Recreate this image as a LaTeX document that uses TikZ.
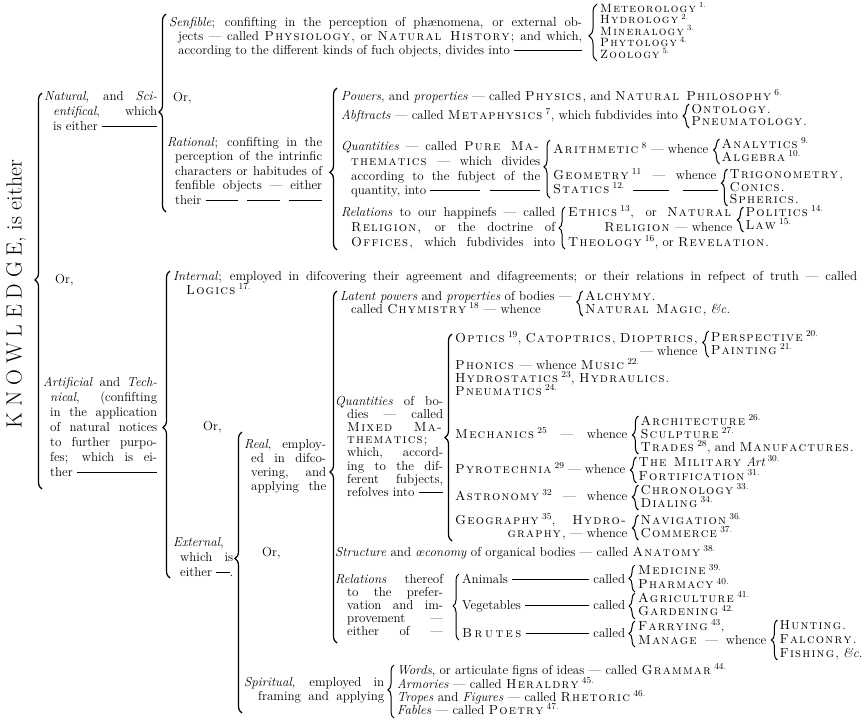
\documentclass[tikz,border=0pt]{standalone}
\usepackage{graphicx}
\usetikzlibrary{decorations.pathreplacing,calc}
\newcommand\fs{\fontsize{13}{14}\selectfont}
\def\lspc#1{\ifx#1\relax\else#1\kern1.2pt\expandafter\lspc\fi}
\newcommand\SC[1]{\textsc{\lspc#1\relax}}
\newcommand\supn[1]{\textsuperscript{#1}}
\newcommand\dfill{\leaders\hrule height 3.8pt depth -3.1pt\hfill}
\tikzset{
  txt/.style={anchor=west, inner sep=0pt, text height=8.5pt, text depth=2.5pt, font=\fs},
  txs/.style={anchor=west, inner sep=0pt, text height=7.5pt, text depth=1.5pt, font=\fontsize{12}{13}\selectfont},
  txr/.style={txt, anchor=east},
  bbr/.style={decorate, decoration={brace, amplitude=7pt, aspect=#1}, line width=1.2pt},
  sbr/.style={decorate, decoration={brace, amplitude=6pt, aspect=#1}, line width=1pt},
  rl/.style={line width=0.7pt},
}
\newcommand\JL[4]{\node[txt] (#1) at (#2) {\makebox[#3pt][s]{#4}};}
\newcommand\TL[3]{\node[txt] (#1) at (#2) {#3};}
\newcommand\RB[4]{\draw[sbr=#4] ($(#1.west|-0,#3)+(-2,0)$) -- ($(#1.west|-0,#2)+(-2,0)$);}
\begin{document}
\begin{tikzpicture}[x=1pt,y=-1pt]
\fill[white] (0,0) rectangle (865,724);
\useasboundingbox (0,0) rectangle (865,724);
% KNOWLEDGE
\node[rotate=90, inner sep=0pt] (know) at (16,294)
  {\resizebox{268pt}{!}{\fontsize{19}{20}\selectfont K\kern5pt N\kern5pt O\kern5pt W\kern5pt L\kern5pt E\kern5pt D\kern5pt G\kern5pt E, is either}};
\draw[bbr=0.528] (42,489) -- (42,93);
% Natural
\JL{nat1}{44,97}{113}{\textit{Natural}, and \textit{Sci-}}
\JL{nat2}{53,112}{104}{\textit{entifical}, which}
\JL{nat3}{53,127}{104}{is either \dfill}
\TL{orA}{55,280}{Or,}
% Artificial
\JL{art1}{43,383}{114}{\textit{Artificial} and \textit{Tech-}}
\JL{art2}{50,398}{107}{\textit{nical}, (confifting}
\JL{art3}{50,413}{107}{in the application}
\JL{art4}{50,428}{107}{of natural notices}
\JL{art5}{50,443}{107}{to further purpo-}
\JL{art6}{50,458}{107}{fes; which is ei-}
\JL{art7}{50,473}{107}{ther \dfill}
% Natural's brace
\draw[bbr=0.505] (166,212) -- (166,14);
\JL{sen1}{169,23}{413}{\textit{Senfible}; confifting in the perception of phænomena, or external ob-}
\JL{sen2}{178,37}{404}{jects — called \SC{Physiology}, or \SC{Natural\ History}; and which,}
\JL{sen3}{178,51}{404}{according to the different kinds of fuch objects, divides into \dfill}
\draw[decorate, decoration={brace, amplitude=8pt, aspect=0.44}, line width=1pt] (597,61) -- (597,4);
\node[txs] (met) at (600,9) {\SC{Meteorology}\,\supn{1.}};
\node[txs] (hydl) at (600,20.5) {\SC{Hydrology}\,\supn{2.}};
\node[txs] (mine) at (600,32) {\SC{Mineralogy}\,\supn{3.}};
\node[txs] (phyt) at (600,43.5) {\SC{Phytology}\,\supn{4.}};
\node[txs] (zool) at (600,55) {\SC{Zoology}\,\supn{5.}};
\TL{orB}{173,98}{Or,}
% Rational
\JL{rat1}{167,143}{155}{\textit{Rational}; confifting in the}
\JL{rat2}{175,157}{147}{perception of the intrinfic}
\JL{rat3}{175,172}{147}{characters or habitudes of}
\JL{rat4}{175,186}{147}{fenfible objects — either}
\JL{rat5}{175,201}{147}{their \dfill\hspace{9pt}\dfill\hspace{9pt}\dfill}
\draw[bbr=0.48] (337,250) -- (337,88);
\TL{pow}{341,97}{\textit{Powers}, and \textit{properties} — called \SC{Physics}, and \SC{Natural\ Philosophy}\,\supn{6.}}
\TL{abs}{341,116}{\textit{Abftracts} — called \SC{Metaphysics}\,\supn{7}, which fubdivides into}
\node[txt,xshift=13pt] (ont) at (abs.east|-0,110) {\SC{Ontology}.};
\node[txt] (pne) at (ont.west|-0,122) {\SC{Pneumatology}.};
\RB{ont}{104}{128}{0.5}
% Pure mathematics
\JL{pq1}{341,147}{199}{\textit{Quantities} — called \SC{Pure\ Ma-}}
\JL{pq2}{351,162}{189}{\SC{thematics} — which divides}
\JL{pq3}{351,177}{189}{according to the fubject of the}
\JL{pq4}{351,191}{189}{quantity, into \dfill\hspace{10pt}\dfill}
\draw[sbr=0.536] (550,198) -- (550,140);
\TL{ari}{553,150}{\SC{Arithmetic}\,\supn{8} — whence}
\JL{geo}{553,176}{163}{\SC{Geometry}\,\supn{11} — whence}
\TL{sta}{553,190}{\SC{Statics}\,\supn{12.}}
\node[txt,xshift=13pt] (anl) at (ari.east|-0,145) {\SC{Analytics}\,\supn{9.}};
\node[txt] (alg) at (anl.west|-0,158) {\SC{Algebra}\,\supn{10.}};
\RB{anl}{139}{164}{0.56}
\node[txt,xshift=13pt] (tri) at (geo.east|-0,175) {\SC{Trigonometry},};
\node[txt] (coni) at (tri.west|-0,188) {\SC{Conics}.};
\node[txt] (sphe) at (tri.west|-0,200) {\SC{Spherics}.};
\RB{tri}{169}{206}{0.62}
\coordinate (stA) at ($(sta.east)+(8,0)$);
\coordinate (stB) at ($(tri.west|-sta.east)+(-11,0)$);
\draw[rl] (stA) -- ($(stA)!0.42!(stB)$);
\draw[rl] ($(stA)!0.58!(stB)$) -- (stB);
% Relations to happiness
\JL{rh1}{341,213}{214}{\textit{Relations} to our happinefs — called}
\JL{rh2}{351,228}{204}{\SC{Religion}, or the doctrine of}
\JL{rh3}{351,243}{204}{\SC{Offices}, which fubdivides into}
\draw[sbr=0.5] (565,249) -- (565,207);
\JL{eth}{568,213}{164}{\SC{Ethics}\,\supn{13}, or \SC{Natural}}
\node[txr] (relw) at (eth.east|-0,228) {\SC{Religion} — whence};
\TL{theo}{568,243}{\SC{Theology}\,\supn{16}, or \SC{Revelation}.}
\node[txt,xshift=13pt] (poli) at (eth.east|-0,213) {\SC{Politics}\,\supn{14.}};
\node[txt] (law) at (poli.west|-0,226) {\SC{Law}\,\supn{15.}};
\RB{poli}{207}{232}{0.48}
% Internal
\JL{intl}{173,277}{684}{\textit{Internal}; employed in difcovering their agreement and difagreements; or their relations in refpect of truth — called}
\TL{logi}{186,291}{\SC{Logics}\,\supn{17.}}
\draw[bbr=0.49] (170,578) -- (170,271);
\TL{orC}{203,427}{Or,}
% External
\TL{ext1}{173,543}{\textit{External},}
\JL{ext2}{180,558}{53}{which is}
\JL{ext3}{180,573}{53}{either \dfill.}
\draw[bbr=0.55] (242,713) -- (242,432);
\TL{orD}{262,553}{Or,}
% Real
\JL{re1}{244,445}{82}{\textit{Real}, employ-}
\JL{re2}{251,459}{75}{ed in difco-}
\JL{re3}{251,473}{75}{vering, and}
\JL{re4}{251,487}{75}{applying the}
\draw[bbr=0.486] (337,643) -- (337,291);
% Latent
\TL{lat1}{340,297}{\textit{Latent powers} and \textit{properties} of bodies —}
\TL{lat2}{351,310}{called \SC{Chymistry}\,\supn{18} — whence}
\node[txt,xshift=13pt] (alc) at (lat1.east|-0,297) {\SC{Alchymy}.};
\node[txt] (nmag) at (alc.west|-0,310) {\SC{Natural\ Magic}, \textit{\&c.}};
\RB{alc}{291}{316}{0.56}
% Mixed mathematics
\draw[bbr=0.5] (452,541) -- (452,334);
\JL{mq1}{335,402}{108}{\textit{Quantities} of bo-}
\JL{mq2}{347,415}{96}{dies — called}
\JL{mq3}{347,428}{96}{\SC{Mixed\ Ma-}}
\JL{mq4}{347,440}{96}{\SC{thematics};}
\JL{mq5}{347,453}{96}{which, accord-}
\JL{mq6}{347,467}{96}{ing to the dif-}
\JL{mq7}{347,480}{96}{ferent fubjects,}
\JL{mq8}{347,493}{96}{refolves into \dfill}
\TL{opt}{455,339}{\SC{Optics}\,\supn{19}, \SC{Catoptrics}, \SC{Dioptrics},}
\node[txt,xshift=13pt] (pers) at (opt.east|-0,338) {\SC{Perspective}\,\supn{20.}};
\node[txt] (pain) at (pers.west|-0,351) {\SC{Painting}\,\supn{21.}};
\node[txr] (optw) at (opt.east|-0,352) {— whence};
\RB{pers}{331}{357}{0.56}
\TL{phon}{455,366}{\SC{Phonics} — whence \SC{Music}\,\supn{22.}}
\TL{hydr}{455,379}{\SC{Hydrostatics}\,\supn{23}, \SC{Hydraulics}.}
\TL{pneu}{455,392}{\SC{Pneumatics}\,\supn{24.}}
\JL{mech}{455,435}{172}{\SC{Mechanics}\,\supn{25} — whence}
\node[txt,xshift=13pt] (arch) at (mech.east|-0,422) {\SC{Architecture}\,\supn{26.}};
\node[txt] (scul) at (arch.west|-0,435) {\SC{Sculpture}\,\supn{27.}};
\node[txt] (trad) at (arch.west|-0,448) {\SC{Trades}\,\supn{28}, and \SC{Manufactures}.};
\RB{arch}{416}{454}{0.5}
\JL{pyro}{455,470}{170}{\SC{Pyrotechnia}\,\supn{29} — whence}
\node[txt,xshift=13pt] (mili) at (pyro.east|-0,463) {\SC{The\ Military} \textit{Art}\,\supn{30.}};
\node[txt] (fort) at (mili.west|-0,477) {\SC{Fortification}\,\supn{31.}};
\RB{mili}{457}{483}{0.5}
\JL{astr}{455,497}{172}{\SC{Astronomy}\,\supn{32} — whence}
\node[txt,xshift=13pt] (chro) at (astr.east|-0,491) {\SC{Chronology}\,\supn{33.}};
\node[txt] (dial) at (chro.west|-0,504) {\SC{Dialing}\,\supn{34.}};
\RB{chro}{485}{510}{0.52}
\JL{geog}{455,521}{172}{\SC{Geography}\,\supn{35}, \SC{Hydro-}}
\node[txr] (grap) at (geog.east|-0,534) {\SC{graphy}, — whence};
\node[txt,xshift=13pt] (navi) at (geog.east|-0,521) {\SC{Navigation}\,\supn{36.}};
\node[txt] (comm) at (navi.west|-0,534) {\SC{Commerce}\,\supn{37.}};
\RB{navi}{515}{540}{0.48}
% Structure
\TL{stru}{335,553}{\textit{Structure} and \textit{œconomy} of organical bodies — called \SC{Anatomy}\,\supn{38.}}
% Relations thereof
\JL{rt1}{335,580}{108}{\textit{Relations} thereof}
\JL{rt2}{347,593}{96}{to the prefer-}
\JL{rt3}{347,606}{96}{vation and im-}
\JL{rt4}{347,619}{96}{provement —}
\JL{rt5}{347,632}{96}{either of —}
\draw[sbr=0.515] (459,640) -- (459,574);
\JL{anim}{462,580}{163}{Animals \dfill\ called}
\JL{vege}{462,606}{163}{Vegetables \dfill\ called}
\JL{brut}{462,634}{163}{\textsc{B\kern2.5pt r\kern2.5pt u\kern2.5pt t\kern2.5pt e\kern2.5pt s} \dfill\ called}
\draw[sbr=0.5] (635,592) -- (635,565);
\TL{medi}{638,571.5}{\SC{Medicine}\,\supn{39.}}
\TL{phar}{638,585.5}{\SC{Pharmacy}\,\supn{40.}}
\draw[sbr=0.5] (635,619) -- (635,593);
\TL{agri}{638,599}{\SC{Agriculture}\,\supn{41.}}
\TL{gard}{638,612.5}{\SC{Gardening}\,\supn{42.}}
\draw[sbr=0.52] (635,647) -- (635,621);
\TL{farr}{638,627}{\SC{Farrying}\,\supn{43},}
\JL{mana}{638,641}{128}{\SC{Manage} — whence}
\node[txt,xshift=13pt] (hunt) at (mana.east|-0,626) {\SC{Hunting}.};
\node[txt] (falc) at (hunt.west|-0,640) {\SC{Falconry}.};
\node[txt] (fish) at (hunt.west|-0,654) {\SC{Fishing}, \textit{\&c.}};
\RB{hunt}{620}{660}{0.5}
% Spiritual
\JL{spi1}{244,683}{140}{\textit{Spiritual}, employed in}
\JL{spi2}{258,697}{126}{framing and applying}
\draw[sbr=0.53] (394,718) -- (394,665);
\TL{word}{397,671}{\textit{Words}, or articulate figns of ideas — called \SC{Grammar}\,\supn{44.}}
\TL{armo}{397,685}{\textit{Armories} — called \SC{Heraldry}\,\supn{45.}}
\TL{trop}{397,698}{\textit{Tropes} and \textit{Figures} — called \SC{Rhetoric}\,\supn{46.}}
\TL{fabl}{397,711}{\textit{Fables} — called \SC{Poetry}\,\supn{47.}}
\end{tikzpicture}
\end{document}
